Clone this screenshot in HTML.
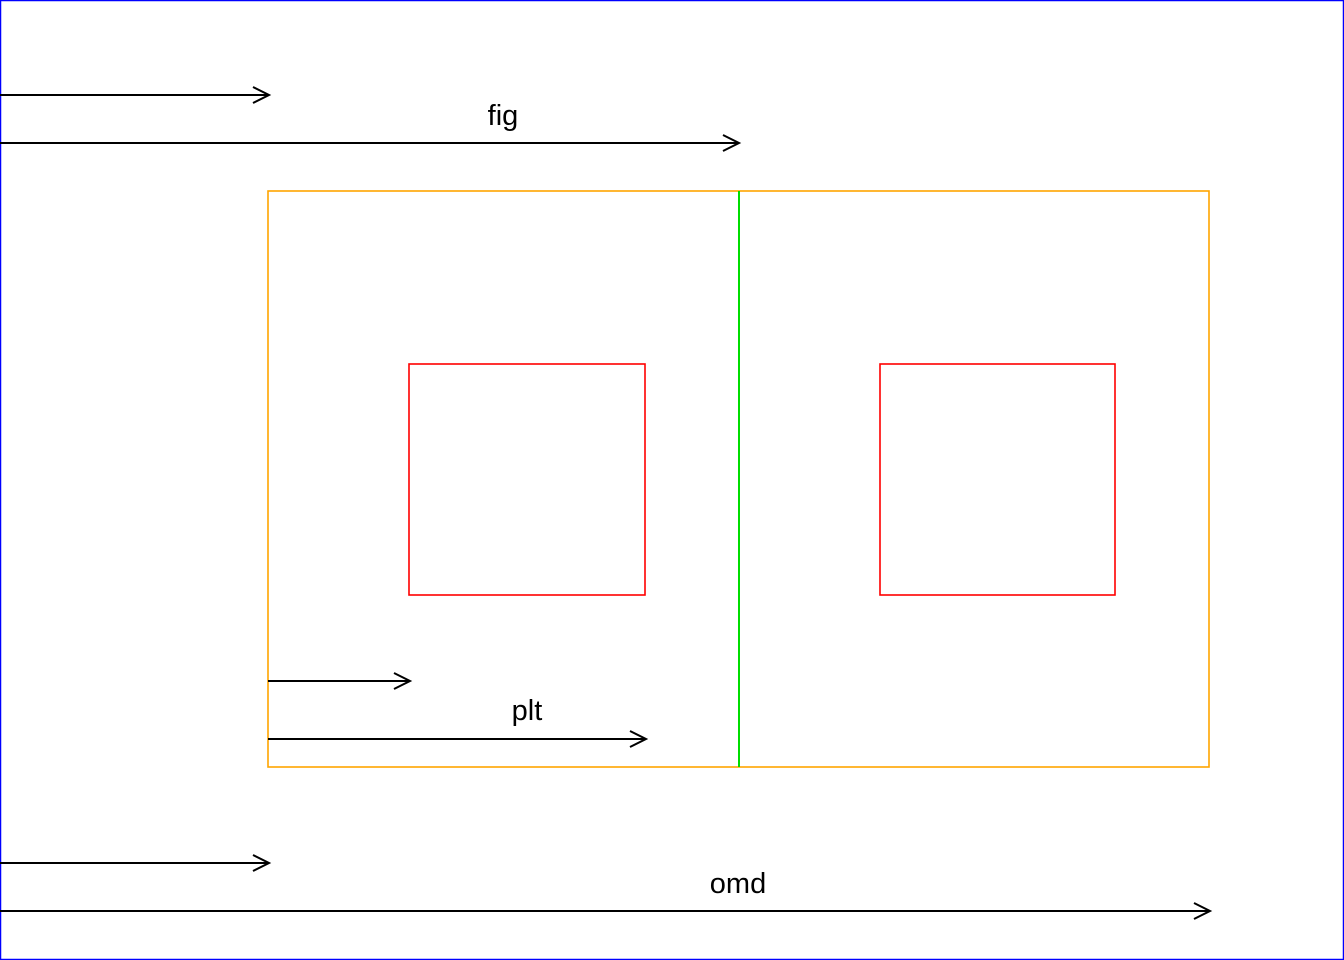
<!DOCTYPE html>
<html>
<head>
<meta charset="utf-8">
<style>
html,body{margin:0;padding:0;background:#fff;}
svg{display:block;}
text{font-family:"Liberation Sans",Arial,sans-serif;font-size:29px;fill:#000;}
</style>
</head>
<body>
<svg id="chart" width="1344" height="960" viewBox="0 0 1344 960" xmlns="http://www.w3.org/2000/svg">
</svg>
<script>
// Region boxes in figure pixel space (data of the layout diagram)
const boxNames = ['omd-border','figure-region','panel-1-plot','panel-2-plot'];
const boxX0 = [0.5, 268, 409, 880];
const boxY0 = [0.5, 191, 364, 364];
const boxX1 = [1343.5, 1209, 645, 1115];
const boxY1 = [959.5, 767, 595, 595];
const boxColors = ['#0000ff','#ffa500','#ff0000','#ff0000'];

const arrowNames = ['fig-arrow-left','fig-arrow-right','plt-arrow-left','plt-arrow-right','omd-arrow-left','omd-arrow-right'];
const arrowX0 = [0, 0, 268, 268, 0, 0];
const arrowX1 = [269, 739, 410, 646, 269, 1210];
const arrowY = [95, 143, 681, 739, 863, 911];

const labels = ['fig','plt','omd'];
const labelX = [503, 527, 738];
const labelY = [125, 720, 893];

const svg = document.getElementById('chart');
const NS = 'http://www.w3.org/2000/svg';

for (let i = 0; i < boxNames.length; i++) {
  const r = document.createElementNS(NS, 'rect');
  r.setAttribute('x', boxX0[i]);
  r.setAttribute('y', boxY0[i]);
  r.setAttribute('width', boxX1[i] - boxX0[i]);
  r.setAttribute('height', boxY1[i] - boxY0[i]);
  r.setAttribute('fill', 'none');
  r.setAttribute('stroke', boxColors[i]);
  r.setAttribute('stroke-width', i === 0 ? 1.5 : 1.6);
  
  
  svg.appendChild(r);
}

// green divider between the two panels
const g = document.createElementNS(NS, 'line');
g.setAttribute('x1', 739); g.setAttribute('x2', 739);
g.setAttribute('y1', boxY0[1]); g.setAttribute('y2', boxY1[1]);
g.setAttribute('stroke', '#00dd00'); g.setAttribute('stroke-width', 2);


svg.appendChild(g);

for (let i = 0; i < arrowNames.length; i++) {
  const grp = document.createElementNS(NS, 'g');
  
  
  const x0 = arrowX0[i], x1 = arrowX1[i], y = arrowY[i];
  const p = document.createElementNS(NS, 'path');
  p.setAttribute('d', `M${x0} ${y} L${x1} ${y} M${x1-16} ${y-8} L${x1} ${y} L${x1-16} ${y+8}`);
  p.setAttribute('fill', 'none');
  p.setAttribute('stroke', '#000');
  p.setAttribute('stroke-width', 2);
  grp.appendChild(p);
  svg.appendChild(grp);
}

for (let i = 0; i < labels.length; i++) {
  const t = document.createElementNS(NS, 'text');
  t.setAttribute('x', labelX[i]);
  t.setAttribute('y', labelY[i]);
  t.setAttribute('text-anchor', 'middle');
  t.textContent = labels[i];
  
  
  svg.appendChild(t);
}
</script>
</body>
</html>
